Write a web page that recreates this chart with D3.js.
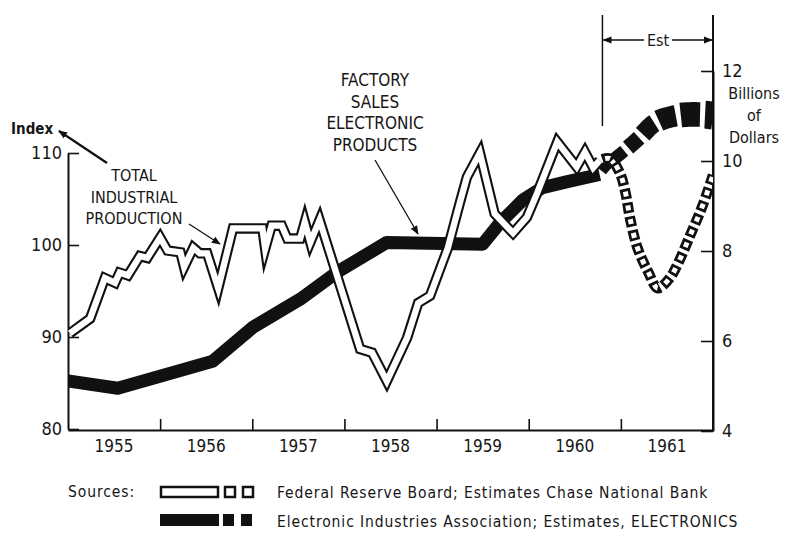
<!DOCTYPE html>
<html>
<head>
<meta charset="utf-8">
<script src="https://cdn.jsdelivr.net/npm/d3@7"></script>
<style>
  body { margin: 0; background: #fff; }
  text { font-family: "DejaVu Sans Condensed", "DejaVu Sans", sans-serif; font-stretch: condensed; fill: #161616; }
</style>
</head>
<body>
<svg id="chart" width="792" height="546"></svg>
<script>
// industrial production index (FRB)
const ipYears = [1955.02, 1955.24, 1955.40, 1955.51, 1955.56, 1955.65, 1955.78, 1955.86, 1956.00, 1956.08,
  1956.22, 1956.26, 1956.36, 1956.43, 1956.51, 1956.63, 1956.79, 1957.11, 1957.14, 1957.21,
  1957.32, 1957.38, 1957.52, 1957.57, 1957.63, 1957.73, 1958.17, 1958.30, 1958.46, 1958.68,
  1958.80, 1958.93, 1959.06, 1959.12, 1959.25, 1959.33, 1959.47, 1959.63, 1959.83, 1959.98,
  1960.09, 1960.31, 1960.52, 1960.61, 1960.70, 1960.77];
const ipIndex = [90.4, 92.0, 96.4, 95.9, 97.0, 96.7, 98.8, 98.6, 100.8, 99.4,
  99.2, 97.6, 99.7, 99.1, 99.1, 95.3, 101.8, 101.8, 99.6, 102.1,
  102.1, 100.7, 100.7, 102.5, 100.3, 102.7, 88.7, 88.3, 85.2, 89.9,
  93.7, 94.5, 98.0, 99.6, 104.5, 107.4, 110.0, 103.4, 101.3, 103.0,
  105.6, 111.2, 108.5, 110.1, 108.4, 109.2];
// estimates (Chase National Bank)
const ipEstYears = [1960.77, 1960.88, 1960.99, 1961.05, 1961.10, 1961.18, 1961.30, 1961.40, 1961.53, 1961.62, 1961.75, 1961.88, 1962.0];
const ipEstIndex = [109.2, 109.4, 107.8, 105.7, 102.9, 99.7, 97.0, 95.3, 96.4, 98.0, 101.0, 104.1, 107.6];

// factory sales of electronic products, billions of dollars
const salesYears = [1955.0, 1955.54, 1956.57, 1957.01, 1957.52, 1957.92, 1958.46, 1959.50, 1959.69, 1959.94, 1960.15, 1960.42, 1960.77];
const salesBillions = [5.11, 4.95, 5.55, 6.31, 6.93, 7.53, 8.19, 8.15, 8.63, 9.14, 9.41, 9.54, 9.70];
// estimates (ELECTRONICS)
const salesEstYears = [1960.77, 1960.85, 1961.08, 1961.21, 1961.37, 1961.61, 1961.91, 1962.0];
const salesEstBillions = [9.70, 9.90, 10.30, 10.54, 10.85, 11.01, 11.03, 11.01];

const estStart = 1960.8;
const yearTicks = [1956, 1957, 1958, 1959, 1960, 1961];
const yearLabels = ["1955", "1956", "1957", "1958", "1959", "1960", "1961"];
const indexTicks = [80, 90, 100, 110];
const dollarTicks = [4, 6, 8, 10, 12];

const svg = d3.select("#chart");
svg.append("rect").attr("width", 792).attr("height", 546).attr("fill", "#fff");

const x = d3.scaleLinear().domain([1955, 1962]).range([68, 713]);
const yL = d3.scaleLinear().domain([80, 110]).range([429, 153]);
const yR = d3.scaleLinear().domain([4, 12]).range([431, 71]);

const defs = svg.append("defs");
defs.append("clipPath").attr("id", "plot")
  .append("rect").attr("x", 68).attr("y", 0).attr("width", 645).attr("height", 431);
defs.append("marker").attr("id", "head")
  .attr("viewBox", "0 0 10 10").attr("refX", 9).attr("refY", 5)
  .attr("markerWidth", 9).attr("markerHeight", 9).attr("orient", "auto")
  .attr("markerUnits", "userSpaceOnUse")
  .append("path").attr("d", "M0,1 L10,5 L0,9 Z").attr("fill", "#111");

// axes
const axB = svg.append("g").attr("transform", "translate(0,430)")
  .call(d3.axisBottom(x).tickValues(yearTicks).tickSize(-11).tickSizeOuter(0).tickFormat(""));
const axL = svg.append("g").attr("transform", "translate(68,0)")
  .call(d3.axisLeft(yL).tickValues(indexTicks).tickSize(-11).tickSizeOuter(0).tickPadding(6));
const axR = svg.append("g").attr("transform", "translate(713,0)")
  .call(d3.axisRight(yR).tickValues(dollarTicks).tickSize(-12).tickSizeOuter(0).tickPadding(9));
[axB, axL, axR].forEach(a => {
  a.select(".domain").attr("stroke", "#111").attr("stroke-width", 2);
  a.selectAll(".tick line").attr("stroke", "#111").attr("stroke-width", 1.6);
  a.selectAll("text").attr("font-size", 18).attr("fill", "#161616");
});
svg.append("line").attr("x1", 713).attr("x2", 713).attr("y1", 15).attr("y2", 431)
  .attr("stroke", "#111").attr("stroke-width", 2);

svg.selectAll(".year").data(yearLabels).enter().append("text")
  .attr("x", (d, i) => x(1955.5 + i)).attr("y", 452)
  .attr("text-anchor", "middle").attr("font-size", 17).text(d => d);

const plot = svg.append("g").attr("clip-path", "url(#plot)");

// electronics sales: heavy black line
const lineR = d3.line().x(d => x(d[0])).y(d => yR(d[1]));
plot.append("path").attr("d", lineR(d3.zip(salesYears, salesBillions)))
  .attr("fill", "none").attr("stroke", "#111").attr("stroke-width", 13)
  .attr("stroke-linejoin", "round");

// estimated sales: widening black dashes
const estGuide = plot.append("path")
  .attr("d", lineR.curve(d3.curveCatmullRom)(d3.zip(salesEstYears, salesEstBillions)))
  .attr("fill", "none").attr("stroke", "none");
const gn = estGuide.node();
const total = gn.getTotalLength();
const widthAt = s => 9 + 20 * Math.pow(Math.min(s, total) / total, 0.9);
const pt = s => gn.getPointAtLength(Math.max(0, Math.min(total, s)));
let s = 4;
while (s < total) {
  const len = 7 + 0.5 * widthAt(s);
  const left = [], right = [];
  for (let i = 0; i <= 10; i++) {
    const a = s + len * i / 10;
    const p0 = pt(a - 1), p1 = pt(a + 1), p = pt(a);
    let dx = p1.x - p0.x, dy = p1.y - p0.y;
    const n = Math.hypot(dx, dy) || 1;
    dx /= n; dy /= n;
    const hw = widthAt(s) / 2;
    let px = p.x, py = p.y;
    if (a > total) { px += dx * (a - total); py += dy * (a - total); }
    left.push([px - dy * hw, py + dx * hw]);
    right.push([px + dy * hw, py - dx * hw]);
  }
  plot.append("path").attr("d", "M" + left.concat(right.reverse()).join("L") + "Z")
    .attr("fill", "#111");
  s += len + 5;
}

// industrial production: hollow line
const lineL = d3.line().x(d => x(d[0])).y(d => yL(d[1]));
const ipD = lineL(d3.zip(ipYears, ipIndex));
plot.append("path").attr("d", ipD).attr("fill", "none").attr("stroke", "#111")
  .attr("stroke-width", 10.5).attr("stroke-linejoin", "miter").attr("stroke-miterlimit", 6);
plot.append("path").attr("d", ipD).attr("fill", "none").attr("stroke", "#fff")
  .attr("stroke-width", 6.3).attr("stroke-linejoin", "miter").attr("stroke-miterlimit", 6);

// estimated industrial production: hollow squares
const ipEstD = lineL.curve(d3.curveCatmullRom)(d3.zip(ipEstYears, ipEstIndex));
plot.append("path").attr("d", ipEstD).attr("fill", "none").attr("stroke", "#111")
  .attr("stroke-width", 10.5).attr("stroke-dasharray", "10.5,3.5").attr("stroke-dashoffset", -3);
plot.append("path").attr("d", ipEstD).attr("fill", "none").attr("stroke", "#fff")
  .attr("stroke-width", 5).attr("stroke-dasharray", "5,9").attr("stroke-dashoffset", -5.75);

// Est marker
const xe = x(estStart);
svg.append("line").attr("x1", xe).attr("x2", xe).attr("y1", 15).attr("y2", 126)
  .attr("stroke", "#111").attr("stroke-width", 1.5);
svg.append("line").attr("x1", 644).attr("x2", xe + 1).attr("y1", 40).attr("y2", 40)
  .attr("stroke", "#111").attr("stroke-width", 1.3).attr("marker-end", "url(#head)");
svg.append("line").attr("x1", 672).attr("x2", 712).attr("y1", 40).attr("y2", 40)
  .attr("stroke", "#111").attr("stroke-width", 1.3).attr("marker-end", "url(#head)");
svg.append("text").attr("x", 658).attr("y", 46).attr("text-anchor", "middle")
  .attr("font-size", 16).text("Est");

// labels and pointers
svg.append("text").attr("x", 11).attr("y", 134).attr("font-size", 15)
  .attr("font-weight", "bold").text("Index");
svg.append("line").attr("x1", 107).attr("y1", 163).attr("x2", 59).attr("y2", 131)
  .attr("stroke", "#111").attr("stroke-width", 2.2).attr("marker-end", "url(#head)");

const tip = svg.append("text").attr("text-anchor", "middle").attr("font-size", 16);
["TOTAL", "INDUSTRIAL", "PRODUCTION"].forEach((t, i) =>
  tip.append("tspan").attr("x", 134).attr("y", 181 + i * 21.5).text(t));
svg.append("line").attr("x1", 189).attr("y1", 224).attr("x2", 220).attr("y2", 244)
  .attr("stroke", "#111").attr("stroke-width", 1.3).attr("marker-end", "url(#head)");

const fs = svg.append("text").attr("text-anchor", "middle").attr("font-size", 17);
["FACTORY", "SALES", "ELECTRONIC", "PRODUCTS"].forEach((t, i) =>
  fs.append("tspan").attr("x", 375).attr("y", 86 + i * 21.5).text(t));
svg.append("line").attr("x1", 375).attr("y1", 160).attr("x2", 418).attr("y2", 234)
  .attr("stroke", "#111").attr("stroke-width", 1.3).attr("marker-end", "url(#head)");

const bd = svg.append("text").attr("text-anchor", "middle").attr("font-size", 16);
["Billions", "of", "Dollars"].forEach((t, i) =>
  bd.append("tspan").attr("x", 754).attr("y", 99 + i * 22).text(t));

// sources legend
svg.append("text").attr("x", 68).attr("y", 497).attr("font-size", 15.5)
  .attr("letter-spacing", 0.9).text("Sources:");
svg.append("rect").attr("x", 161).attr("y", 487).attr("width", 57).attr("height", 10)
  .attr("fill", "#fff").attr("stroke", "#111").attr("stroke-width", 2.5);
[225, 243].forEach(px => svg.append("rect").attr("x", px).attr("y", 487).attr("width", 10).attr("height", 10)
  .attr("fill", "#fff").attr("stroke", "#111").attr("stroke-width", 2.5));
svg.append("text").attr("x", 277).attr("y", 498).attr("font-size", 15.5).attr("letter-spacing", 0.9)
  .text("Federal Reserve Board; Estimates Chase National Bank");

svg.append("rect").attr("x", 160).attr("y", 514).attr("width", 59).attr("height", 12).attr("fill", "#111");
[223, 241].forEach(px => svg.append("rect").attr("x", px).attr("y", 514).attr("width", 11).attr("height", 12)
  .attr("fill", "#111"));
svg.append("text").attr("x", 277).attr("y", 527).attr("font-size", 15.5).attr("letter-spacing", 0.9)
  .text("Electronic Industries Association; Estimates, ELECTRONICS");
</script>
</body>
</html>
